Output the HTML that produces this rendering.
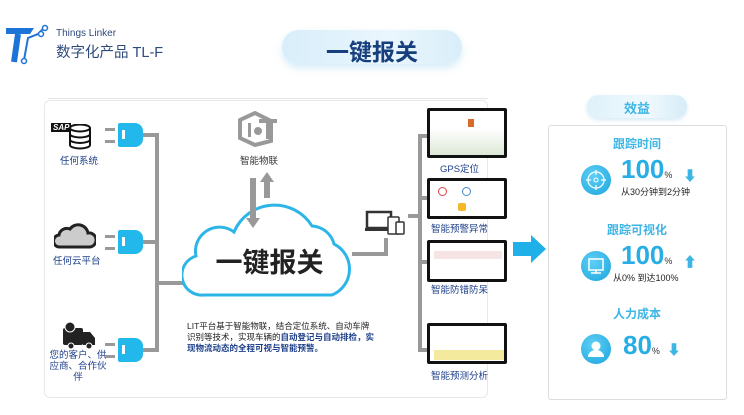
<!DOCTYPE html>
<html><head><meta charset="utf-8"><style>
*{margin:0;padding:0;box-sizing:border-box}
body{width:744px;height:415px;overflow:hidden;background:#fff;font-family:"Liberation Sans","Noto Sans CJK SC",sans-serif;position:relative}
.a{position:absolute}
.lbl{position:absolute;font-size:9.5px;color:#1d3f8a;white-space:nowrap;text-align:center}
.con{position:absolute;width:25px;height:24px;background:#22b8ec;border-radius:2px 8px 8px 2px}
.con:after{content:"";position:absolute;left:4px;top:7px;width:3px;height:9px;background:#fff}
.pin{position:absolute;width:10px;height:3px;background:#999}
.g{position:absolute;background:#999}
.shot{position:absolute;background:#fff;border:3px solid #111;border-radius:2px;overflow:hidden}
.pct{font-size:26px;font-weight:bold;color:#27aee5}
.circ{position:absolute;width:30px;height:30px;border-radius:50%;background:radial-gradient(circle at 40% 35%,#5fd0f5,#1ba4de)}
.ttl{position:absolute;width:178px;text-align:center;font-size:12px;font-weight:bold;color:#3db6e6}
.sub{position:absolute;font-size:9px;color:#222;white-space:nowrap}
</style></head><body>
<!-- logo -->
<svg class="a" style="left:4px;top:24px" width="46" height="42" viewBox="0 0 46 42">
<path d="M2 4 H30 L26 10 H2 Z" fill="#1e73d6"/>
<path d="M14 10 L10 38" stroke="#1e73d6" stroke-width="6" fill="none"/>
<path d="M20 36 L24 14 L34 10 L40 4" stroke="#1e73d6" stroke-width="2" fill="none"/>
<circle cx="20" cy="37" r="2.5" fill="#fff" stroke="#1e73d6" stroke-width="1.5"/>
<circle cx="41" cy="4" r="2.5" fill="#fff" stroke="#1e73d6" stroke-width="1.5"/>
<circle cx="37" cy="10" r="2.5" fill="#fff" stroke="#1e73d6" stroke-width="1.5"/>
</svg>
<div class="a" style="left:56px;top:28px;font-size:10px;color:#2c4a7c">Things Linker</div>
<div class="a" style="left:56px;top:41px;font-size:14.5px;color:#2c4a7c">数字化产品 TL-F</div>
<!-- title pill -->
<div class="a" style="left:282px;top:30px;width:180px;height:34px;border-radius:17px;background:linear-gradient(90deg,#d8eefa,#eaf6fd 60%,#d9eef9);box-shadow:0 4px 8px rgba(140,200,235,.35)"></div>
<div class="a" style="left:282px;top:33px;width:180px;text-align:center;font-size:23px;font-weight:bold;color:#173f7e">一键报关</div>
<div class="a" style="left:48px;top:98px;width:440px;height:1px;background:#e4e4e4"></div>
<!-- left panel -->
<div class="a" style="left:44px;top:100px;width:444px;height:298px;border:1px solid #e8e8e8;border-radius:6px;background:#fff"></div>
<!-- SAP -->
<div class="a" style="left:51px;top:123px;background:#111;color:#fff;font-size:8px;font-weight:bold;padding:0 2px;font-style:italic">SAP</div>
<svg class="a" style="left:68px;top:124px" width="24" height="26"><ellipse cx="12" cy="4" rx="10" ry="3.5" fill="#fff" stroke="#111" stroke-width="2"/><path d="M2 4 V21 A10 3.5 0 0 0 22 21 V4 M2 10 A10 3.5 0 0 0 22 10 M2 15.5 A10 3.5 0 0 0 22 15.5" fill="none" stroke="#111" stroke-width="2"/></svg>
<div class="lbl" style="left:60px;top:153px">任何系统</div>
<!-- cloud icon -->
<svg class="a" style="left:54px;top:223px" width="42" height="26"><path d="M6 24 A6 6 0 0 1 5 12 A8 8 0 0 1 16 6 A10 10 0 0 1 34 10 A7 7 0 0 1 36 24 Z" fill="#ccc" stroke="#222" stroke-width="3"/></svg>
<div class="lbl" style="left:53px;top:253px">任何云平台</div>
<!-- truck -->
<svg class="a" style="left:61px;top:320px" width="36" height="30"><rect x="2" y="8" width="20" height="17" rx="2" fill="#222"/><path d="M22 12 H29 L34 18 V25 H22Z" fill="#222"/><circle cx="10" cy="26" r="3" fill="#222" stroke="#fff"/><circle cx="28" cy="26" r="3" fill="#222" stroke="#fff"/><circle cx="9" cy="7" r="5" fill="#222" stroke="#fff"/></svg>
<div class="lbl" style="left:48px;top:350px;line-height:11px;width:60px;white-space:normal">您的客户、供应商、合作伙伴</div>
<!-- connectors -->
<div class="pin" style="left:105px;top:128px"></div><div class="pin" style="left:105px;top:140px"></div><div class="con" style="left:118px;top:123px"></div>
<div class="pin" style="left:105px;top:235px"></div><div class="pin" style="left:105px;top:247px"></div><div class="con" style="left:118px;top:230px"></div>
<div class="pin" style="left:105px;top:343px"></div><div class="pin" style="left:105px;top:355px"></div><div class="con" style="left:118px;top:338px"></div>
<div class="g" style="left:143px;top:133px;width:16px;height:4px"></div>
<div class="g" style="left:143px;top:240px;width:16px;height:4px"></div>
<div class="g" style="left:143px;top:348px;width:16px;height:4px"></div>
<div class="g" style="left:155px;top:133px;width:4px;height:219px"></div>
<div class="g" style="left:155px;top:281px;width:32px;height:4px"></div>
<!-- IoT -->
<svg class="a" style="left:237px;top:111px" width="44" height="36"><path d="M18 2 L34 10 V30 L18 34 L3 27 V9Z" fill="none" stroke="#999" stroke-width="4"/><rect x="11" y="12" width="3" height="14" fill="#999"/><circle cx="21" cy="20" r="4" fill="#999"/><rect x="22" y="8" width="18" height="4" fill="#999"/><rect x="29" y="8" width="4" height="20" fill="#999"/></svg>
<div class="lbl" style="left:240px;top:153px;color:#333">智能物联</div>
<!-- cloud -->
<svg class="a" style="left:182px;top:196px" width="178" height="106"><path d="M22 99 A20 20 0 0 1 14 60 A24 24 0 0 1 52 36 A44 44 0 0 1 130 30 A24 24 0 0 1 152 48 A28 28 0 0 1 150 99 Z" fill="#fff" stroke="#2eb5e8" stroke-width="3"/></svg>
<svg class="a" style="left:246px;top:170px" width="28" height="62"><path d="M4 8 H10 V48 H14 L7 58 L0 48 H4Z" fill="#999"/><path d="M18 28 V12 H14 L21 2 L28 12 H24 V28Z" fill="#999"/></svg>
<div class="a" style="left:185px;top:241px;width:169px;text-align:center;font-size:27px;font-weight:bold;color:#222">一键报关</div>
<div class="a" style="left:187px;top:321px;font-size:8.5px;line-height:11px;color:#222;width:190px">LIT平台基于智能物联，结合定位系统、自动车牌识别等技术，实现车辆的<b style="color:#1d3f8a">自动登记与自动排检，实现物流动态的全程可视与智能预警。</b></div>
<!-- right connectors -->
<div class="g" style="left:352px;top:252px;width:36px;height:4px"></div>
<div class="g" style="left:384px;top:238px;width:4px;height:18px"></div>
<svg class="a" style="left:365px;top:210px" width="42" height="26"><rect x="2" y="2" width="24" height="16" fill="#fff" stroke="#333" stroke-width="2.5"/><rect x="0" y="18" width="28" height="3" fill="#333"/><rect x="23" y="7" width="11" height="17" rx="1" fill="#fff" stroke="#333" stroke-width="1.5"/><rect x="31" y="12" width="8" height="12" rx="1" fill="#fff" stroke="#333" stroke-width="1.5"/></svg>
<div class="g" style="left:408px;top:214px;width:14px;height:4px"></div>
<div class="g" style="left:418px;top:134px;width:4px;height:218px"></div>
<div class="g" style="left:418px;top:134px;width:12px;height:4px"></div>
<div class="g" style="left:418px;top:196px;width:12px;height:4px"></div>
<div class="g" style="left:418px;top:260px;width:12px;height:4px"></div>
<div class="g" style="left:418px;top:348px;width:12px;height:4px"></div>
<div class="shot" style="left:427px;top:108px;width:80px;height:50px;background:linear-gradient(#fff 40%,#dde8d6)"><div class="a" style="left:38px;top:8px;width:6px;height:8px;background:#d96a2a"></div></div>
<div class="lbl" style="left:440px;top:161px">GPS定位</div>
<div class="shot" style="left:427px;top:178px;width:80px;height:41px"><div class="a" style="left:8px;top:6px;width:9px;height:9px;border:1.5px solid #d44;border-radius:50%"></div><div class="a" style="left:32px;top:6px;width:9px;height:9px;border:1.5px solid #48c;border-radius:50%"></div><div class="a" style="left:28px;top:22px;width:8px;height:8px;background:#f5b82a;border-radius:2px"></div></div>
<div class="lbl" style="left:431px;top:221px">智能预警异常</div>
<div class="shot" style="left:427px;top:240px;width:80px;height:42px"><div class="a" style="left:4px;top:8px;width:68px;height:8px;background:#f6e3e3"></div></div>
<div class="lbl" style="left:431px;top:282px">智能防错防呆</div>
<div class="shot" style="left:427px;top:323px;width:80px;height:41px"><div class="a" style="left:4px;top:24px;width:70px;height:10px;background:#f3ea9e"></div></div>
<div class="lbl" style="left:431px;top:368px">智能预测分析</div>
<!-- big arrow -->
<svg class="a" style="left:513px;top:235px" width="34" height="28"><path d="M0 7 H18 V0 L33 14 L18 28 V21 H0Z" fill="#1fb0ea"/></svg>
<!-- right panel -->
<div class="a" style="left:587px;top:95px;width:100px;height:23px;border-radius:12px;background:linear-gradient(90deg,#dff1fa,#f0f9fd 60%,#d6ecf7);box-shadow:0 2px 4px rgba(150,200,230,.4)"></div>
<div class="a" style="left:587px;top:98px;width:100px;text-align:center;font-size:13px;font-weight:bold;color:#3db6e6">效益</div>
<div class="a" style="left:548px;top:125px;width:179px;height:275px;border:1px solid #ddd;border-radius:3px;background:#fff"></div>
<div class="ttl" style="left:548px;top:135px">跟踪时间</div>
<div class="circ" style="left:581px;top:165px"><svg width="30" height="30"><circle cx="15" cy="15" r="8" fill="none" stroke="#fff" stroke-width="1.2"/><circle cx="15" cy="15" r="2" fill="none" stroke="#fff"/><path d="M15 5V10M15 20V25M5 15H10M20 15H25" stroke="#fff" stroke-width="1.2"/></svg></div>
<div class="a" style="left:621px;top:154px"><span class="pct">100</span><span style="font-size:9px;color:#333">%</span></div>
<div class="a" style="left:683px;top:166px;color:#3db6e6;font-size:14px;font-weight:bold">⬇</div>
<div class="sub" style="left:621px;top:185px">从30分钟到2分钟</div>
<div class="ttl" style="left:548px;top:221px">跟踪可视化</div>
<div class="circ" style="left:581px;top:251px"><svg width="30" height="30"><rect x="8" y="8" width="14" height="11" fill="none" stroke="#fff" stroke-width="1.5"/><path d="M15 19V22M10 22H20" stroke="#fff" stroke-width="1.5"/></svg></div>
<div class="a" style="left:621px;top:240px"><span class="pct">100</span><span style="font-size:9px;color:#333">%</span></div>
<div class="a" style="left:683px;top:252px;color:#3db6e6;font-size:14px;font-weight:bold">⬆</div>
<div class="sub" style="left:613px;top:271px">从0% 到达100%</div>
<div class="ttl" style="left:548px;top:305px">人力成本</div>
<div class="circ" style="left:581px;top:334px"><svg width="30" height="30"><circle cx="15" cy="12" r="4.5" fill="#fff"/><path d="M7 23 A8 7 0 0 1 23 23Z" fill="#fff"/></svg></div>
<div class="a" style="left:623px;top:330px"><span class="pct">80</span><span style="font-size:9px;color:#333">%</span></div>
<div class="a" style="left:667px;top:340px;color:#3db6e6;font-size:14px;font-weight:bold">⬇</div>
</body></html>
